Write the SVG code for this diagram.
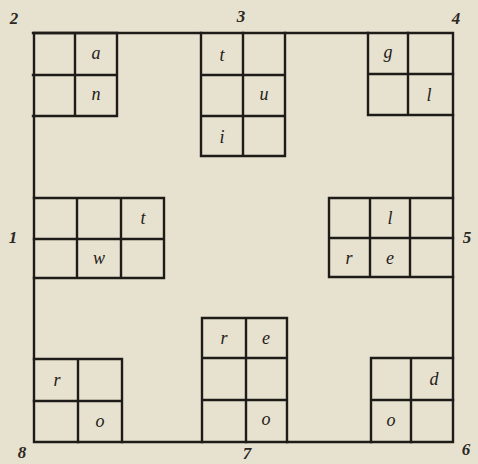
<svg xmlns="http://www.w3.org/2000/svg" width="478" height="464" viewBox="0 0 478 464">
<style>
.g{fill:none;stroke:#1e1c18;stroke-width:2.4;stroke-linecap:square}
.t{font-family:"Liberation Serif",serif;font-style:italic;font-size:18px;fill:#1e1c18;text-anchor:middle}
.n{font-family:"Liberation Serif",serif;font-style:italic;font-weight:bold;font-size:17px;fill:#2a2824;text-anchor:middle}
</style>
<rect width="478" height="464" fill="#e7e1cf"/>
<g id="connectors">
<path class="g" d="M34 33 H453 V442 H34 Z"/>
</g>
<g id="block2">
<path class="g" d="M33 33 H117 V116 H33 M75 33 V116 M33 75 H117"/>
<text class="t" x="96" y="59">a</text><text class="t" x="96" y="100">n</text>
</g>
<g id="block3">
<path class="g" d="M201 33 V156 H285 V33 M243 33 V156 M201 75 H285 M201 116 H285"/>
<text class="t" x="222" y="61">t</text><text class="t" x="264" y="100">u</text><text class="t" x="222" y="143">i</text>
</g>
<g id="block4">
<path class="g" d="M368 33 V115 H453 M408 33 V115 M368 74 H453"/>
<text class="t" x="388" y="58">g</text><text class="t" x="429" y="101">l</text>
</g>
<g id="block1">
<path class="g" d="M34 198 H164 V278 H34 M77 198 V278 M121 198 V278 M34 239 H164"/>
<text class="t" x="143" y="224">t</text><text class="t" x="99" y="264">w</text>
</g>
<g id="block5">
<path class="g" d="M453 198 H329 V277 H453 M370 198 V277 M410 198 V277 M329 238 H453"/>
<text class="t" x="390" y="224">l</text><text class="t" x="349" y="264">r</text><text class="t" x="390" y="264">e</text>
</g>
<g id="block8">
<path class="g" d="M34 359 H122 V442 M78 359 V442 M34 401 H122"/>
<text class="t" x="57" y="386">r</text><text class="t" x="100" y="427">o</text>
</g>
<g id="block7">
<path class="g" d="M202 442 V318 H287 V442 M246 318 V442 M202 358 H287 M202 400 H287"/>
<text class="t" x="224" y="344">r</text><text class="t" x="266" y="344">e</text><text class="t" x="266" y="425">o</text>
</g>
<g id="block6">
<path class="g" d="M371 442 V358 H453 M411 358 V442 M371 400 H453"/>
<text class="t" x="434" y="385">d</text><text class="t" x="391" y="426">o</text>
</g>
<g id="labels">
<text class="n" x="14" y="24">2</text>
<text class="n" x="241" y="22">3</text>
<text class="n" x="456" y="24">4</text>
<text class="n" x="13" y="243">1</text>
<text class="n" x="467" y="243">5</text>
<text class="n" x="22" y="458">8</text>
<text class="n" x="247" y="459">7</text>
<text class="n" x="466" y="455">6</text>
</g>
</svg>
